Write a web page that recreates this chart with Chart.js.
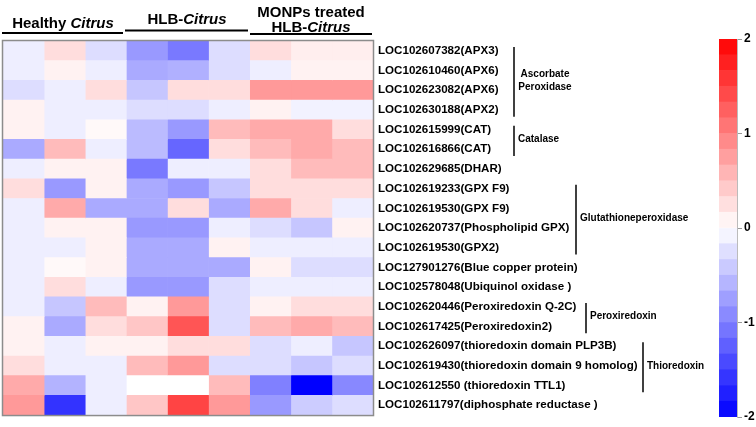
<!DOCTYPE html>
<html>
<head>
<meta charset="utf-8">
<script src="https://cdn.jsdelivr.net/npm/chart.js@4.4.0/dist/chart.umd.min.js"></script>
<style>
  body { margin: 0; background: #fff; }
  #wrap { position: relative; width: 756px; height: 427px; }
  #heatBox { position: absolute; left: 0; top: 0; width: 756px; height: 427px; }
  #barBox { position: absolute; left: 700px; top: 0; width: 56px; height: 427px; }
</style>
</head>
<body>
<div id="wrap">
  <div id="heatBox"><canvas id="heatChart"></canvas></div>
  <div id="barBox"><canvas id="scaleChart"></canvas></div>
</div>
<script>
// 基因名稱 (由上到下)
const geneLabels = [
  "LOC102607382(APX3)",
  "LOC102610460(APX6)",
  "LOC102623082(APX6)",
  "LOC102630188(APX2)",
  "LOC102615999(CAT)",
  "LOC102616866(CAT)",
  "LOC102629685(DHAR)",
  "LOC102619233(GPX F9)",
  "LOC102619530(GPX F9)",
  "LOC102620737(Phospholipid GPX)",
  "LOC102619530(GPX2)",
  "LOC127901276(Blue copper protein)",
  "LOC102578048(Ubiquinol oxidase )",
  "LOC102620446(Peroxiredoxin Q-2C)",
  "LOC102617425(Peroxiredoxin2)",
  "LOC102626097(thioredoxin domain PLP3B)",
  "LOC102619430(thioredoxin domain 9 homolog)",
  "LOC102612550 (thioredoxin TTL1)",
  "LOC102611797(diphosphate reductase )"
];

// 每一欄的 z-score (3 重複 x 3 組)
const healthy1 = [-0.13, -0.13, -0.27, 0.1, 0.1, -0.67, -0.13, 0.27, -0.13, -0.13, -0.13, -0.13, -0.13, -0.13, 0.1, 0.1, 0.27, 0.67, 0.8];
const healthy2 = [0.27, 0.1, -0.13, -0.13, -0.13, 0.53, 0.1, -0.8, 0.67, 0.1, -0.13, 0.05, 0.27, -0.45, -0.67, -0.13, -0.13, -0.6, -1.6];
const healthy3 = [-0.27, -0.13, 0.27, -0.13, 0.05, -0.13, 0.1, 0.1, -0.67, 0.1, 0.1, 0.1, -0.13, 0.53, 0.27, 0.1, -0.13, -0.13, -0.13];
const hlb1 = [-0.8, -0.67, -0.45, -0.27, -0.53, -0.53, -1.05, -0.67, -0.67, -0.8, -0.67, -0.67, -0.8, 0.1, 0.45, 0.1, 0.53, 0.0, 0.45];
const hlb2 = [-1.05, -0.62, 0.27, -0.27, -0.8, -1.2, -0.13, -0.8, 0.27, -0.8, -0.67, -0.67, -0.8, 0.8, 1.33, 0.27, 0.8, 0.0, 1.47];
const hlb3 = [-0.27, -0.27, 0.27, -0.13, 0.53, 0.27, -0.13, -0.45, -0.67, -0.13, 0.1, -0.67, -0.27, -0.27, -0.27, 0.27, -0.27, 0.53, 0.8];
const monps1 = [0.27, -0.13, 0.8, 0.1, 0.67, 0.53, 0.27, 0.27, 0.67, -0.27, -0.13, 0.1, -0.13, 0.1, 0.53, -0.27, -0.27, -1.0, -0.8];
const monps2 = [0.13, 0.1, 0.8, -0.1, 0.67, 0.67, 0.53, 0.27, 0.27, -0.45, -0.13, -0.27, -0.13, 0.27, 0.67, -0.13, -0.45, -2.0, -0.4];
const monps3 = [0.13, 0.1, 0.8, -0.1, 0.27, 0.53, 0.53, 0.27, -0.13, 0.1, -0.13, -0.27, -0.13, 0.27, 0.53, -0.45, -0.27, -0.93, -0.27];

const columns = [healthy1, healthy2, healthy3, hlb1, hlb2, hlb3, monps1, monps2, monps3];

// 色階刻度
const scaleTicks = [-2, -1, 0, 1, 2];
const scaleSteps = 24;

// 分組標示 (起始列, 結束列, 文字)
const geneGroups = [
  { from: 0, to: 3, x: 514, text: ["Ascorbate", "Peroxidase"] },
  { from: 4, to: 5, x: 514, text: ["Catalase"] },
  { from: 7, to: 10, x: 576, text: ["Glutathioneperoxidase"] },
  { from: 13, to: 14, x: 586, text: ["Peroxiredoxin"] },
  { from: 15, to: 17, x: 643, text: ["Thioredoxin"] }
];

// 數值轉顏色 (藍-白-紅)
function valueColor(v) {
  let t = Math.min(Math.abs(v) / 2, 1);
  let c = Math.round(255 * (1 - t));
  return v >= 0 ? `rgb(255,${c},${c})` : `rgb(${c},${c},255)`;
}

const FONT = "'Liberation Sans', Arial, sans-serif";

// 1.熱圖
const heatDatasets = columns.map((vals, c) => ({
  data: vals.map(() => [c, c + 1]),
  backgroundColor: vals.map(valueColor),
  borderWidth: 0,
  grouped: false,
  barPercentage: 1,
  categoryPercentage: 1,
}));

const decoPlugin = {
  id: "deco",
  afterDraw(chart) {
    const ctx = chart.ctx;
    const area = chart.chartArea;
    const rowH = (area.bottom - area.top) / geneLabels.length;
    ctx.save();

    // 外框
    ctx.strokeStyle = "#8c8c8c";
    ctx.lineWidth = 1.5;
    ctx.strokeRect(area.left - 0.5, area.top - 0.5, area.right - area.left + 1, area.bottom - area.top + 1);

    // 標題
    ctx.fillStyle = "#000";
    ctx.textBaseline = "alphabetic";
    function mixedText(parts, cx, y) {
      let widths = parts.map((p) => {
        ctx.font = (p[1] ? "italic " : "") + "bold 15px " + FONT;
        return ctx.measureText(p[0]).width;
      });
      let total = widths.reduce((a, b) => a + b, 0);
      let x = cx - total / 2;
      parts.forEach((p, i) => {
        ctx.font = (p[1] ? "italic " : "") + "bold 15px " + FONT;
        ctx.textAlign = "left";
        ctx.fillText(p[0], x, y);
        x += widths[i];
      });
    }
    mixedText([["Healthy ", false], ["Citrus", true]], 63, 28);
    mixedText([["HLB-", false], ["Citrus", true]], 187, 24);
    mixedText([["MONPs treated", false]], 311, 17);
    mixedText([["HLB-", false], ["Citrus", true]], 311, 32);

    ctx.strokeStyle = "#000";
    ctx.lineWidth = 2;
    [[2, 123, 33], [125, 248, 30.5], [250, 372, 34]].forEach((l) => {
      ctx.beginPath();
      ctx.moveTo(l[0], l[2]);
      ctx.lineTo(l[1], l[2]);
      ctx.stroke();
    });

    // 分組括號
    ctx.lineWidth = 1.5;
    ctx.font = "bold 10px " + FONT;
    ctx.textBaseline = "middle";
    geneGroups.forEach((g) => {
      let y0 = area.top + rowH * g.from + 6;
      let y1 = area.top + rowH * (g.to + 1) - 3;
      ctx.beginPath();
      ctx.moveTo(g.x, y0);
      ctx.lineTo(g.x, y1);
      ctx.stroke();
      let mid = area.top + rowH * (g.from + g.to + 1) / 2;
      let n = g.text.length;
      g.text.forEach((t, i) => {
        let ty = mid + (i - (n - 1) / 2) * 13;
        if (n > 1) {
          ctx.textAlign = "center";
          ctx.fillText(t, g.x + 31, ty);
        } else {
          ctx.textAlign = "left";
          ctx.fillText(t, g.x + 4, ty);
        }
      });
    });
    ctx.restore();
  },
};

new Chart(document.getElementById("heatChart"), {
  type: "bar",
  data: { labels: geneLabels, datasets: heatDatasets },
  plugins: [decoPlugin],
  options: {
    indexAxis: "y",
    responsive: true,
    maintainAspectRatio: false,
    animation: false,
    layout: { padding: { left: 3, top: 41, bottom: 9, right: 0 } },
    plugins: { legend: { display: false }, tooltip: { enabled: false } },
    scales: {
      x: { type: "linear", min: 0, max: columns.length, display: false },
      y: {
        position: "right",
        grid: { display: false, drawTicks: false },
        border: { display: false },
        ticks: {
          color: "#000",
          padding: 5,
          autoSkip: false,
          font: { family: FONT, size: 11.6, weight: "bold" },
        },
        afterFit(scale) {
          scale.width = 383;
        },
      },
    },
  },
});

// 2.色階條
const stepSize = 4 / scaleSteps;
const scaleDatasets = [];
for (let i = 0; i < scaleSteps; i++) {
  let lo = -2 + i * stepSize;
  let hi = lo + stepSize;
  scaleDatasets.push({
    data: [[lo, hi]],
    backgroundColor: valueColor((lo + hi) / 2),
    borderWidth: 0,
    grouped: false,
    barPercentage: 1,
    categoryPercentage: 1,
  });
}

new Chart(document.getElementById("scaleChart"), {
  type: "bar",
  data: { labels: [""], datasets: scaleDatasets },
  options: {
    responsive: true,
    maintainAspectRatio: false,
    animation: false,
    layout: { padding: { left: 19, top: 39, bottom: 10, right: 0 } },
    plugins: { legend: { display: false }, tooltip: { enabled: false } },
    scales: {
      x: { display: false },
      y: {
        position: "right",
        min: -2,
        max: 2,
        afterBuildTicks(scale) {
          scale.ticks = scaleTicks.map((v) => ({ value: v }));
        },
        grid: { drawOnChartArea: false, drawTicks: true, tickLength: 5, color: "#999" },
        border: { display: true, color: "#bbb" },
        ticks: {
          color: "#000",
          padding: 2,
          font: { family: FONT, size: 12, weight: "bold" },
        },
        afterFit(scale) {
          scale.width = 19;
        },
      },
    },
  },
});
</script>
</body>
</html>
